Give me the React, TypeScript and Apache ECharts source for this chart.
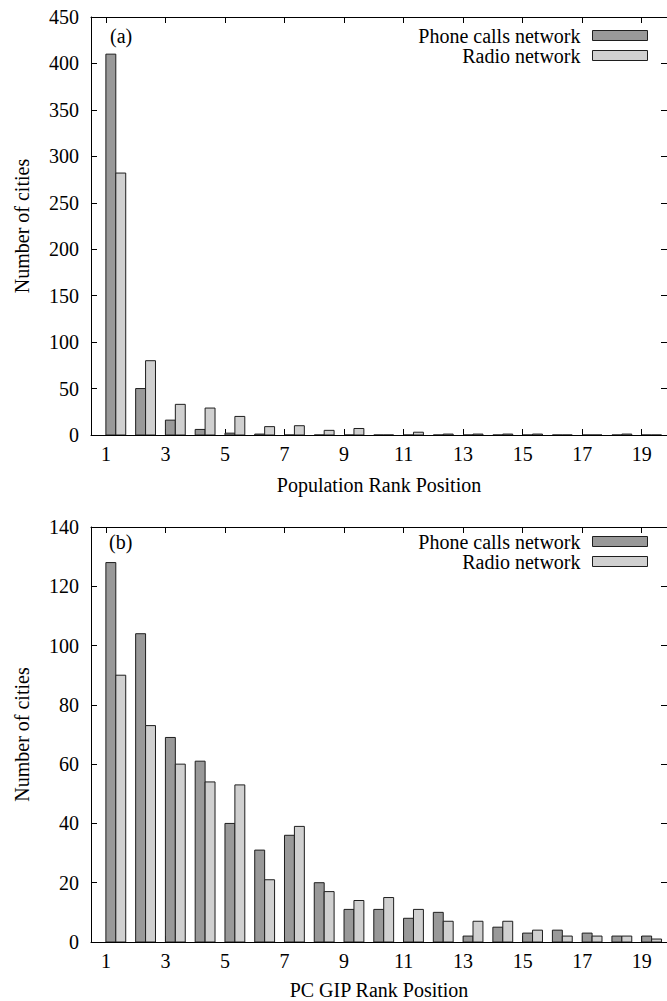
import React, { useEffect, useRef } from "react";
import * as echarts from "echarts";

const categories = [1, 2, 3, 4, 5, 6, 7, 8, 9, 10, 11, 12, 13, 14, 15, 16, 17, 18, 19];
const tickValues = [1, 3, 5, 7, 9, 11, 13, 15, 17, 19];

const popPhone = [410, 50, 16, 6, 2, 1, 0, 0, 0, 0, 0, 0, 0, 0, 0, 0, 0, 0, 0];
const popRadio = [282, 80, 33, 29, 20, 9, 10, 5, 7, 0, 3, 1, 1, 1, 1, 0, 0, 1, 0];

const gipPhone = [128, 104, 69, 61, 40, 31, 36, 20, 11, 11, 8, 10, 2, 5, 3, 4, 3, 2, 2];
const gipRadio = [90, 73, 60, 54, 53, 21, 39, 17, 14, 15, 11, 7, 7, 7, 4, 2, 2, 2, 1];

const PHONE = "Phone calls network";
const RADIO = "Radio network";
const DARK = "#999999";
const LIGHT = "#d0d0d0";
const EDGE = "#1e1e1e";
const FONT = "Liberation Serif";
const FS = 20;
const BAR_W = 1 / 3;

function barSeries(name: string, values: number[], offset: number, color: string, axisIdx: number) {
  return {
    type: "custom",
    name,
    xAxisIndex: axisIdx,
    yAxisIndex: axisIdx,
    clip: true,
    data: categories.map((c, i) => [c, values[i]]),
    renderItem: (params: any, api: any) => {
      const x = api.value(0);
      const v = api.value(1);
      const p0 = api.coord([x + offset, v]);
      const p1 = api.coord([x + offset + BAR_W, 0]);
      return {
        type: "rect",
        shape: { x: p0[0], y: p0[1], width: p1[0] - p0[0], height: p1[1] - p0[1] },
        style: { fill: color, stroke: EDGE, lineWidth: 1 },
      };
    },
  };
}

function xAxes(gridIndex: number, name: string, nameGap: number) {
  const common = {
    type: "value",
    gridIndex,
    min: 0.5,
    max: 19.85,
    splitLine: { show: false },
    axisLine: { show: true, onZero: false, lineStyle: { color: "#000", width: 1 } },
    axisTick: { show: true, inside: true, length: 6, customValues: tickValues, lineStyle: { color: "#000" } },
  };
  return [
    {
      ...common,
      position: "bottom",
      name,
      nameLocation: "middle",
      nameGap,
      nameTextStyle: { fontFamily: FONT, fontSize: FS, color: "#000" },
      axisLabel: { show: true, customValues: tickValues, margin: 9, fontFamily: FONT, fontSize: FS, color: "#000" },
    },
    { ...common, position: "top", axisLabel: { show: false } },
  ];
}

function yAxes(gridIndex: number, max: number, interval: number) {
  const common = {
    type: "value",
    gridIndex,
    min: 0,
    max,
    interval,
    splitLine: { show: false },
    axisLine: { show: true, onZero: false, lineStyle: { color: "#000", width: 1 } },
    axisTick: { show: true, inside: true, length: 6, lineStyle: { color: "#000" } },
  };
  return [
    {
      ...common,
      position: "left",
      name: "Number of cities",
      nameLocation: "middle",
      nameGap: 59,
      nameTextStyle: { fontFamily: FONT, fontSize: FS, color: "#000" },
      axisLabel: { show: true, margin: 12, fontFamily: FONT, fontSize: FS, color: "#000" },
    },
    { ...common, position: "right", axisLabel: { show: false } },
  ];
}

function legend(top: number) {
  return {
    orient: "vertical",
    right: 19,
    top,
    align: "right",
    itemWidth: 55,
    itemHeight: 10,
    itemGap: 0,
    padding: 0,
    selectedMode: false,
    textStyle: { fontFamily: FONT, fontSize: FS, color: "#000", lineHeight: 19, padding: [0, 7, 0, 0] },
    data: [
      { name: PHONE, icon: "rect", itemStyle: { color: DARK, borderColor: EDGE, borderWidth: 1 } },
      { name: RADIO, icon: "rect", itemStyle: { color: LIGHT, borderColor: EDGE, borderWidth: 1 } },
    ],
  };
}

export default function App() {
  const ref = useRef<HTMLDivElement>(null);
  useEffect(() => {
    if (!ref.current) return;
    const chart = echarts.init(ref.current, null, { renderer: "svg" });
    chart.setOption({
      animation: false,
      backgroundColor: "#fff",
      textStyle: { fontFamily: FONT },
      title: [
        { text: "(a)", left: 110, top: 26, padding: 0, textStyle: { fontFamily: FONT, fontSize: FS, fontWeight: "normal", color: "#000" } },
        { text: "(b)", left: 109, top: 532, padding: 0, textStyle: { fontFamily: FONT, fontSize: FS, fontWeight: "normal", color: "#000" } },
      ],
      legend: [legend(25.5), legend(531.5)],
      grid: [
        { left: 91, top: 17, width: 577, height: 418 },
        { left: 91, top: 527, width: 577, height: 415 },
      ],
      xAxis: [...xAxes(0, "Population Rank Position", 40), ...xAxes(1, "PC GIP Rank Position", 38)],
      yAxis: [...yAxes(0, 450, 50), ...yAxes(1, 140, 20)],
      series: [
        barSeries(PHONE, popPhone, 0, DARK, 0),
        barSeries(RADIO, popRadio, BAR_W, LIGHT, 0),
        barSeries(PHONE, gipPhone, 0, DARK, 2),
        barSeries(RADIO, gipRadio, BAR_W, LIGHT, 2),
      ],
    });
    return () => chart.dispose();
  }, []);
  return <div ref={ref} style={{ position: "absolute", left: 0, top: 0, width: 667, height: 1001 }} />;
}
